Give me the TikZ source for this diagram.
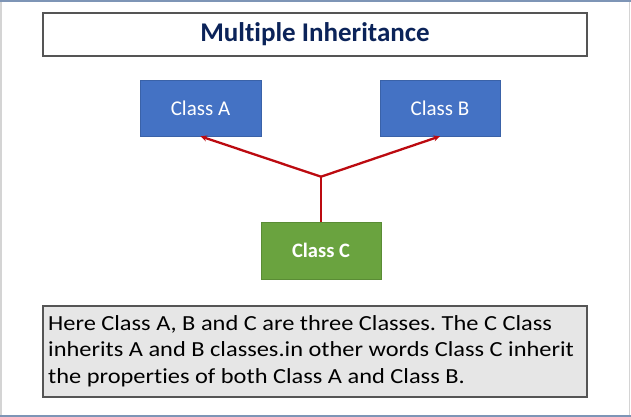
\documentclass[tikz,border=0pt]{standalone}
\usepackage{fontspec}
\setmainfont[Ligatures=NoCommon]{Carlito}
\newfontfamily\descfont[FakeStretch=1.135,Ligatures=NoCommon]{Carlito}
\usetikzlibrary{arrows.meta,calc}
\definecolor{navy}{HTML}{0B2359}
\definecolor{boxblue}{HTML}{4472C4}
\definecolor{boxblueb}{HTML}{3A62A8}
\definecolor{boxgreen}{HTML}{6AA33F}
\definecolor{boxgreenb}{HTML}{5A8C35}
\definecolor{arrred}{HTML}{BC0A10}
\definecolor{framebl}{HTML}{7E95B6}
\definecolor{framegr}{HTML}{D4D4D4}
\definecolor{textbg}{HTML}{E6E6E6}
\definecolor{edgegray}{HTML}{555555}
\tikzset{
  classbox/.style={fill=boxblue, draw=boxblueb, line width=0.6pt, text=white,
    minimum width=121, minimum height=56, inner sep=0pt, font=\fontsize{21}{24}\selectfont},
  childbox/.style={fill=boxgreen, draw=boxgreenb, line width=0.6pt, text=white,
    minimum width=120, minimum height=57, inner sep=0pt, font=\bfseries\fontsize{20.5}{24}\selectfont},
  link/.style={draw=arrred, line width=2.3pt},
  linkarrow/.style={link, -{Stealth[length=6.5pt,width=6pt]}}
}
\begin{document}
\frenchspacing
\begin{tikzpicture}[x=1pt,y=-1pt]
\useasboundingbox (0,0) rectangle (631,417);
\fill[white] (0,0) rectangle (631,417);
\draw[framegr, line width=1.2pt] (1,1) -- (1,416);
\draw[framegr, line width=1.2pt] (629.5,1) -- (629.5,416);
\draw[framebl, line width=1.6pt] (0,1) -- (631,1);
\draw[framebl, line width=1.6pt] (0,416) -- (631,416);

\node[draw=edgegray, line width=1.6pt, minimum width=544, minimum height=43, inner sep=0pt,
  text=navy, font=\bfseries\fontsize{27}{30}\selectfont] (title) at (315,34.5) {Multiple Inheritance};

\node[classbox] (A) at (200.5,108) {Class A};
\node[classbox, minimum width=120] (B) at (440,108) {Class B};
\node[childbox] (C) at (321,250.5) {Class C};

\coordinate (J) at ($(C.north)+(0,-45)$);
\draw[link] (C.north) -- (J);
\draw[linkarrow] (J) -- (A.south);
\draw[linkarrow] (J) -- (B.south);

\node[fill=textbg, draw=edgegray, line width=1.2pt, minimum width=544, minimum height=91, inner sep=0pt] (desc) at (315,351.5) {};
\node[anchor=north west, align=left, inner sep=0pt, font=\descfont\fontsize{21.5}{26.5}\selectfont] (desctext) at (48,315)
  {Here Class A, B and C are three Classes. The C Class\\inherits A and B classes.in other words Class C inherit\\the properties of both Class A and Class B.};
\end{tikzpicture}
\end{document}
